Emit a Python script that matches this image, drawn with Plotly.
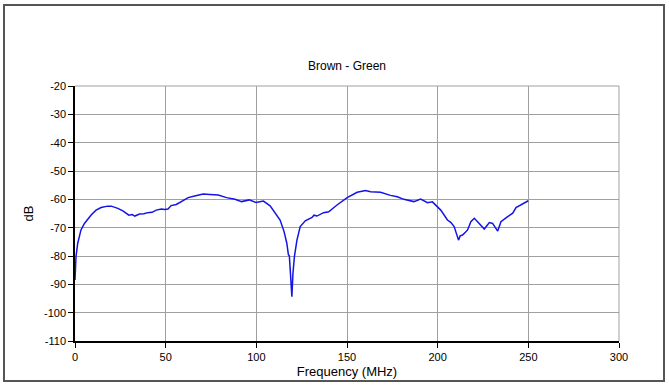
import plotly.graph_objects as go

freq = [0, 0.55, 1.5, 3.3, 5.2, 7, 8.9, 11.6, 14.4, 18, 20, 23.6, 26.4, 29.7, 31.5, 33, 35.6, 38, 40,
        42.5, 44.8, 47.6, 49.5, 51.3, 53, 55.9, 58.7, 62.4, 66, 70.7, 74.4, 79, 83.6, 88.2, 91.9, 96.1,
        99.8, 103.9, 107.6, 110.4, 113.1, 115.3, 116.8, 117.7, 118.2, 118.7, 119.6, 120.2, 121,
        122.4, 124.2, 127, 130.7, 131.8, 133.4, 137.1, 139.9, 144.5, 150.1, 155.6, 160.2, 163,
        168.5, 174, 177.7, 181.4, 186.9, 190.6, 194.4, 197.1, 201.7, 205.4, 207.2, 209.1, 211.5,
        212.4, 213.7, 215.3, 216.5, 218.3, 220.2, 222.9, 225.7, 228.5, 230.3, 233.1, 234.9, 238.6, 241.4,
        243.2, 246, 250]
db = [-88.5, -80.2, -75.5, -70.8, -68.5, -67, -65.5, -63.8, -62.9, -62.4, -62.4, -63.2,
      -64.1, -65.6, -65.4, -65.9, -65.2, -65.1, -64.7, -64.6, -63.8, -63.4, -63.6, -63.4, -62.2, -61.8,
      -60.8, -59.4, -58.8, -58.1, -58.3, -58.5, -59.4, -60, -60.8, -60.2, -61.1, -60.6, -62.3, -65,
      -67.3, -71.4, -75.5, -79.6, -79.9, -84.9, -94.4, -86.1, -80.2, -74.4, -69.6, -67.6, -66.4,
      -65.6, -65.9, -64.7, -64.4, -62, -59.4, -57.5, -56.9, -57.3, -57.5, -58.6, -59.1, -60,
      -60.8, -59.9, -61.2, -60.9, -63.8, -67.3, -68.1, -69.6, -74.4, -72.9, -72.6, -71.6, -70.8,
      -67.9, -66.7, -68.5, -70.5, -68.2, -68.5, -71.2, -67.9, -66.1, -64.9, -62.9, -62, -60.5]

x_ticks = [0, 50, 100, 150, 200, 250, 300]
y_ticks = [-110, -100, -90, -80, -70, -60, -50, -40, -30, -20]
y_tick_labels = ["-110", "-100", "-90", "-80", "-70", "-60", "-50", "-40", "-30", "-20"]

W, H = 669, 385
L, R, T, B = 75, 50, 86, 44
pw, ph = W - L - R, H - T - B

fig = go.Figure()
fig.add_trace(go.Scatter(x=freq, y=db, mode="lines",
                         line=dict(color="#1414e6", width=1.5), showlegend=False))

font = dict(family="Liberation Sans, Arial, sans-serif", size=11, color="#000")
fig.update_layout(
    width=W, height=H,
    margin=dict(l=L, r=R, t=T, b=B, autoexpand=False),
    paper_bgcolor="white", plot_bgcolor="white",
    font=font,
    title=dict(text="Brown - Green", x=(L + pw / 2) / W, xanchor="center",
               y=1 - 66 / H, yanchor="middle", font=dict(size=12)),
    xaxis=dict(range=[0, 300], tickvals=x_ticks, showgrid=True, gridcolor="#a0a0a0",
               gridwidth=1, showline=True, linecolor="#000", linewidth=1.5,
               ticks="outside", ticklen=5, tickcolor="#000", zeroline=False,
               automargin=False,
               title=dict(text="Frequency (MHz)", standoff=5), mirror=False),
    yaxis=dict(range=[-110, -20], tickvals=y_ticks, ticktext=y_tick_labels,
               showgrid=True, gridcolor="#a0a0a0",
               gridwidth=1, showline=True, linecolor="#000", linewidth=1.5,
               ticks="outside", ticklen=5, tickcolor="#000", zeroline=False,
               automargin=False,
               title=dict(text="dB", standoff=7)),
)
fig.add_shape(type="line", xref="paper", yref="paper", x0=0, x1=1, y0=1, y1=1,
              line=dict(color="#a0a0a0", width=1))
fig.add_shape(type="line", xref="paper", yref="paper", x0=1, x1=1, y0=0, y1=1,
              line=dict(color="#a0a0a0", width=1))
fx0, fx1, fy0, fy1 = 4, 664, 5, 381
fig.add_shape(type="rect", xref="paper", yref="paper",
              x0=(fx0 - L) / pw, x1=(fx1 - L) / pw,
              y0=(H - B - fy1) / ph, y1=(H - B - fy0) / ph,
              line=dict(color="#555", width=2), layer="below")

fig.write_html("out.html", config={"displayModeBar": False},
               post_script="document.body.style.margin='0';")
